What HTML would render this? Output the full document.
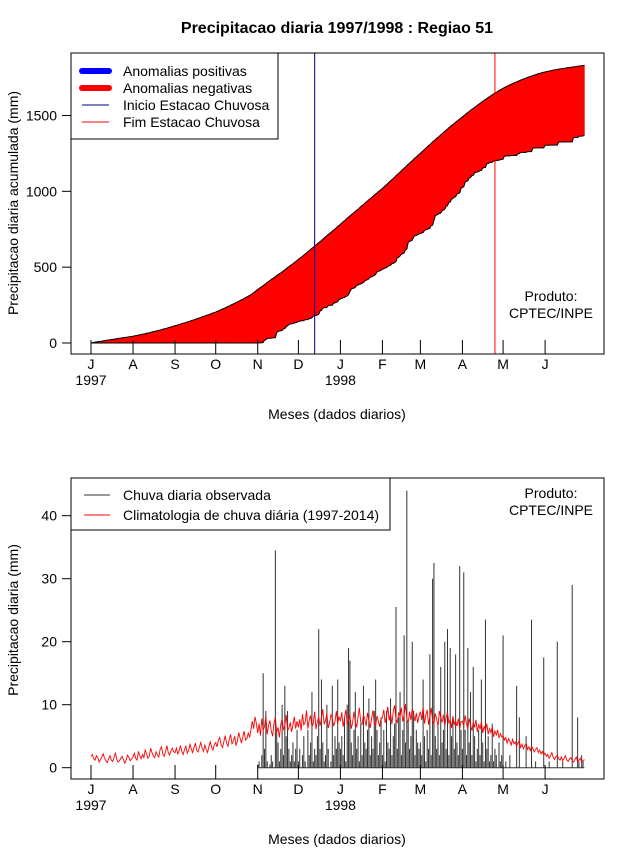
<!DOCTYPE html>
<html><head><meta charset="utf-8"><style>
body{margin:0;background:#fff}
svg{display:block;font-family:"Liberation Sans",sans-serif}
</style></head><body>
<svg id="chart" width="640" height="850" viewBox="0 0 640 850" xmlns="http://www.w3.org/2000/svg">
<rect width="640" height="850" fill="#fff"/>
<text x="337" y="33" text-anchor="middle" font-size="16" font-weight="bold">Precipitacao diaria 1997/1998 : Regiao 51</text>
<g id="topPanel"></g>
<g id="botPanel"></g>
</svg>
<script>
// ---- data ----
const monthLabels = ["J","A","S","O","N","D","J","F","M","A","M","J"];
const monthStartDays = [0,31,62,92,123,153,184,215,243,274,304,335];
const yearLabels = [["1997",0],["1998",184]];
const topTicks = [0,500,1000,1500];
const botTicks = [0,10,20,30,40];
const inicioDay = 165;
const fimDay = 298;
const obsStartDay = 123;
const climJul = [1.8,2.1,1.4,1.2,1.9,1.6,0.9,1.3,1.7,2.2,1.5,1.1,0.8,1.4,1.9,1.2,1.0,1.6,2.4,1.3,0.9,1.1,1.5,1.8,1.2,0.7,1.3,2.0,1.6,1.1,1.4];
const climAug = [1.7,2.3,1.5,1.2,2.6,1.9,1.4,2.1,1.6,2.8,2.2,1.5,1.8,3.1,2.4,1.9,1.6,2.5,2.0,1.7,2.9,3.3,2.2,1.8,2.6,3.5,2.4,2.0,2.7,3.1,2.5];
const climSep = [2.4,3.1,2.2,2.7,3.5,2.6,2.1,2.9,3.4,2.3,2.8,3.7,3.0,2.4,3.2,3.9,2.7,2.5,3.3,4.0,3.1,2.6,3.6,2.9,2.4,3.4,4.1,3.2,2.8,3.7];
const climOct = [4.0,3.3,4.4,4.8,3.6,3.2,4.1,5.1,3.9,3.4,4.5,5.3,3.8,4.2,5.0,3.5,4.3,5.6,4.7,3.9,4.9,5.8,4.4,4.6,5.5,4.8,6.0,7.4,6.2,8.1,7.0];
const climNov = [5.5,7.0,5.1,7.8,6.0,6.5,8.2,5.3,6.7,7.5,5.8,5.0,7.1,8.0,5.6,6.4,4.8,6.9,7.7,6.1,6.6,8.4,5.9,6.3,7.2,5.7,6.8,8.1,6.2,7.4];
const climDec = [6.4,7.7,5.9,8.5,6.8,7.2,9.1,6.2,7.6,8.3,6.5,7.0,8.9,6.1,7.4,8.0,6.7,7.8,9.3,6.9,7.5,8.6,6.3,7.1,8.4,7.9,6.6,7.3,9.0,7.0,8.1];
const climJan = [7.4,8.8,6.5,7.9,9.2,6.8,7.6,8.5,6.2,7.1,8.9,7.3,6.4,8.0,9.5,7.2,6.9,8.4,7.7,6.6,8.7,7.5,6.3,7.8,9.1,7.0,6.7,8.2,7.4,6.5,7.9];
const climFeb = [7.9,9.2,7.1,8.2,9.7,7.5,8.6,6.9,9.0,9.9,7.7,7.2,8.8,8.1,9.5,7.3,8.4,10.1,7.8,7.0,8.9,7.6,9.3,8.5,7.4,8.7,7.1,8.2];
const climMar = [8.9,7.6,9.7,7.0,8.3,9.2,6.8,8.1,9.5,7.4,6.9,8.6,7.8,6.5,9.0,8.0,7.2,8.4,6.7,7.9,8.8,7.1,7.6,6.3,8.2,6.9,7.4,6.6,7.8,6.2,7.3];
const climApr = [7.4,6.6,8.3,7.0,6.2,7.8,6.8,5.9,7.2,6.4,7.6,5.7,6.9,6.1,7.3,5.5,6.6,5.9,7.0,5.3,6.2,5.6,6.5,4.9,5.8,5.2,6.0,4.7,5.4,4.9];
const climMay = [5.1,4.4,4.8,3.9,4.6,4.2,3.6,4.5,3.8,4.1,3.4,3.9,4.3,3.2,3.7,3.0,3.5,3.9,2.9,3.3,2.7,3.4,3.0,2.5,2.9,3.2,2.4,2.8,2.2,2.6,2.0];
const climJun = [2.3,1.8,2.1,1.5,1.9,2.4,1.6,1.3,1.8,2.0,1.4,1.2,1.7,1.1,1.5,1.9,1.2,1.0,1.4,1.6,1.1,0.9,1.3,1.7,1.0,1.2,1.5,0.9,1.1,1.3];
const obsNov = [0.5,1,0,2,15,3,9,1,0,0.5,2,1,0,34.5,6,4,1,3,10,2,13,5,9,3,1,2,4,1,3,6];
const obsDec = [1,3,0,2,5,1,0,6,2,4,12,1,3,2,5,22,3,14,4,1,2,10,3,0,1,13,2,5,3,14,4];
const obsJan = [3,5,2,8,1,10,19,17,4,2,6,12,3,5,1,7,2,13,4,3,6,11,2,5,3,9,14,6,2,4,8];
const obsFeb = [2,6,1,9,4,3,11,2,5,7,25.5,3,8,12,2,6,21,4,44,7,3,5,20,9,2,6,4,3];
const obsMar = [4,2,14,5,1,6,3,18,2,30,32.5,5,3,7,2,16,4,6,20,3,22,2,19,5,8,3,18,4,2,32,6];
const obsApr = [3,31,6,2,19,4,12,2,16,5,1,3,6,2,14,4,1,23.5,3,5,1,2,7,1,3,2,0,4,1,2];
const obsMay = [21,0,1,0,0,2,0,0,0,0,13,0,8,0,0,0,0,5,0,0,0,23.5,0,0,1,0,0,0,0,0,17.5];
const obsJun = [0,0,0,1,0,0,0,0,0,20,0,0,0,1,0,0,0,0,0,0,29,0,0,0,8,1,0,2,1,0];

// ---- build ----
const clim = [].concat(climJul,climAug,climSep,climOct,climNov,climDec,climJan,climFeb,climMar,climApr,climMay,climJun);
const obs = [].concat(obsNov,obsDec,obsJan,obsFeb,obsMar,obsApr,obsMay,obsJun);
const N = clim.length;
const NS = "http://www.w3.org/2000/svg";
function mk(parent, tag, attrs, text){
  const e = document.createElementNS(NS, tag);
  for (const k in attrs) e.setAttribute(k, attrs[k]);
  if (text !== undefined) e.textContent = text;
  parent.appendChild(e); return e;
}
const X0 = 91, DX = 1.3555;
const xs = d => X0 + d*DX;
const yT = v => 343 - v*0.15167;
const yB = v => 767.7 - v*6.3;
const obsVal = d => d >= obsStartDay ? (obs[d-obsStartDay] || 0) : 0;

const climCum = [], obsCum = [];
let accA = 0, accB = 0;
for (let d = 0; d < N; d++){ climCum.push(accA); obsCum.push(accB); accA += clim[d]; accB += obsVal(d); }

function axes(g, topY, bottom, yfun, ticks, ylabel, ymid){
  const box = mk(g,'rect',{x:71,y:topY,width:533,height:bottom-topY,fill:'none',stroke:'#000','stroke-width':1});
  
  
  monthStartDays.forEach((d,i)=>{
    const t = mk(g,'line',{x1:xs(d),x2:xs(d),y1:bottom,y2:bottom-14,stroke:'#000'});
    
    
    const l = mk(g,'text',{x:xs(d),y:bottom+15,'text-anchor':'middle','font-size':14},monthLabels[i]);
    
    
  });
  yearLabels.forEach(([s,d])=>{
    const l = mk(g,'text',{x:xs(d),y:bottom+31,'text-anchor':'middle','font-size':14},s);
    
    
  });
  ticks.forEach(v=>{
    const t = mk(g,'line',{x1:62,x2:71,y1:yfun(v),y2:yfun(v),stroke:'#000'});
    
    
    const l = mk(g,'text',{x:57,y:yfun(v)+5,'text-anchor':'end','font-size':14},String(v));
    
    
  });
  const yl = mk(g,'text',{x:0,y:0,transform:`translate(18,${ymid}) rotate(-90)`,'text-anchor':'middle','font-size':14},ylabel);
  
  
  const xl = mk(g,'text',{x:337,y:bottom+65,'text-anchor':'middle','font-size':14},'Meses (dados diarios)');
  
  
}
function produto(g, y){
  const t1 = mk(g,'text',{x:551,y:y,'text-anchor':'middle','font-size':14},'Produto:');
  
  
  const t2 = mk(g,'text',{x:551,y:y+17,'text-anchor':'middle','font-size':14},'CPTEC/INPE');
  
  
}

// ---- top panel ----
const topG = document.getElementById('topPanel');
for (let d = 0; d < N-1; d++){
  const pos = obsCum[d] > climCum[d];
  const col = pos ? '#0000ff' : '#ff0000';
  const p = mk(topG,'polygon',{points:`${xs(d)},${yT(climCum[d])} ${xs(d+1)},${yT(climCum[d+1])} ${xs(d+1)},${yT(obsCum[d+1])} ${xs(d)},${yT(obsCum[d])}`,fill:col,stroke:col,'stroke-width':0.6});
  
  
}
const cl = mk(topG,'polyline',{points:climCum.map((v,d)=>`${xs(d)},${yT(v)}`).join(' '),fill:'none',stroke:'#000','stroke-width':1});


const ol = mk(topG,'polyline',{points:obsCum.map((v,d)=>`${xs(d)},${yT(v)}`).join(' '),fill:'none',stroke:'#000','stroke-width':1});


const vi = mk(topG,'line',{x1:xs(inicioDay),x2:xs(inicioDay),y1:53,y2:354,stroke:'#00008b','stroke-width':1});


const vf = mk(topG,'line',{x1:xs(fimDay),x2:xs(fimDay),y1:53,y2:354,stroke:'#ff0000','stroke-width':1});


axes(topG,53,354,yT,topTicks,'Precipitacao diaria acumulada (mm)',203);
produto(topG,301);
const lg = mk(topG,'g',{});


mk(lg,'rect',{x:71,y:53,width:207,height:86,fill:'#fff',stroke:'#000'});
[['Anomalias positivas','#0000ff',6],['Anomalias negativas','#ff0000',6],['Inicio Estacao Chuvosa','#00008b',1],['Fim Estacao Chuvosa','#ff0000',1]].forEach(([t,c,w],i)=>{
  const y = 71 + i*17;
  const e = mk(lg,'g',{});
  
  
  mk(e,'line',{x1:82,x2:109,y1:y,y2:y,stroke:c,'stroke-width':w,'stroke-linecap':w>1?'round':'butt'});
  mk(e,'text',{x:123,y:y+5,'font-size':14},t);
});

// ---- bottom panel ----
const botG = document.getElementById('botPanel');
const base = mk(botG,'line',{x1:xs(obsStartDay),x2:xs(N-1),y1:yB(0),y2:yB(0),stroke:'#333','stroke-width':1});


for (let d = obsStartDay; d < N; d++){
  const v = obsVal(d);
  if (v <= 0) continue;
  const bar = mk(botG,'line',{x1:xs(d),x2:xs(d),y1:yB(0),y2:yB(v),stroke:'#333','stroke-width':1});
  
  
}
const rl = mk(botG,'polyline',{points:clim.map((v,d)=>`${xs(d)},${yB(v)}`).join(' '),fill:'none',stroke:'#ff0000','stroke-width':0.9});


axes(botG,478,779,yB,botTicks,'Precipitacao diaria (mm)',620);
produto(botG,498);
const lg2 = mk(botG,'g',{});


mk(lg2,'rect',{x:71,y:478,width:319,height:52,fill:'#fff',stroke:'#000'});
[['Chuva diaria observada','#333'],['Climatologia de chuva diária (1997-2014)','#ff0000']].forEach(([t,c],i)=>{
  const y = 495 + i*20;
  const e = mk(lg2,'g',{});
  
  
  mk(e,'line',{x1:84,x2:110,y1:y,y2:y,stroke:c,'stroke-width':1});
  mk(e,'text',{x:123,y:y+5,'font-size':14},t);
});
</script>
</body></html>
